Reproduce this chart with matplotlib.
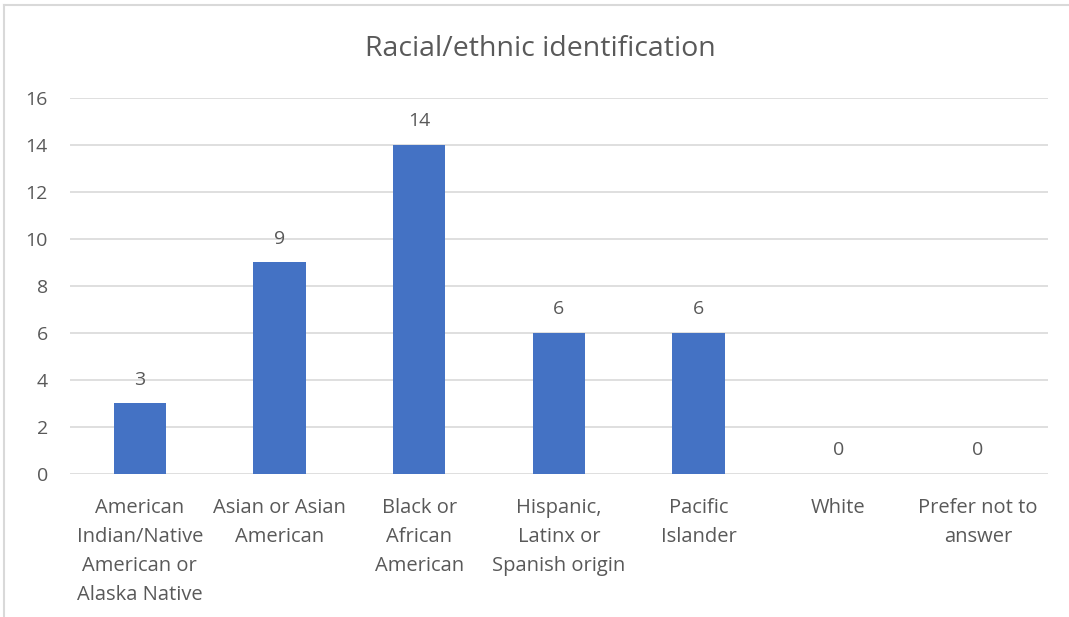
import matplotlib.pyplot as plt
import matplotlib.lines as mlines

categories = [
    "American\nIndian/Native\nAmerican or\nAlaska Native",
    "Asian or Asian\nAmerican",
    "Black or\nAfrican\nAmerican",
    "Hispanic,\nLatinx or\nSpanish origin",
    "Pacific\nIslander",
    "White",
    "Prefer not to\nanswer",
]
counts = [3, 9, 14, 6, 6, 0, 0]
yticks = [0, 2, 4, 6, 8, 10, 12, 14, 16]

plt.rcParams['font.family'] = ['Open Sans', 'DejaVu Sans']
text_col = '#595959'
grid_col = '#d9d9d9'

fig = plt.figure(figsize=(10.69, 6.17), dpi=100)
ax = fig.add_axes([0.0655, 0.2318, 0.9145, 0.6094])

x = range(len(categories))
bars = ax.bar(x, counts, width=0.375, color='#4472C4', zorder=3)

for xi, v in zip(x, counts):
    ax.annotate(str(v), (xi, v), xytext=(0, 17), textcoords='offset points',
                ha='center', va='center', fontsize=14, color=text_col)

ax.set_xlim(-0.5, len(categories) - 0.5)
ax.set_ylim(0, 16)
ax.set_yticks(yticks)
ax.set_xticks(list(x))
ax.set_xticklabels(categories, fontsize=14.5, color=text_col, linespacing=1.6)
ax.tick_params(axis='y', labelsize=14, labelcolor=text_col, length=0, pad=16)
ax.tick_params(axis='x', length=0, pad=17)
ax.yaxis.grid(True, color=grid_col, linewidth=1.2, zorder=0)
for s in ax.spines.values():
    s.set_visible(False)

# title sits centred on the whole chart area, not the plot area
ax.set_title("Racial/ethnic identification", fontsize=20.5, color=text_col, pad=30, x=0.481)

# outer chart frame (left and top edges visible)
fig.add_artist(mlines.Line2D([4 / 1069, 4 / 1069], [0, 1 - 5 / 617], color=grid_col, lw=1.5))
fig.add_artist(mlines.Line2D([4 / 1069, 1], [1 - 5 / 617, 1 - 5 / 617], color=grid_col, lw=1.5))

fig.savefig('out.png', dpi=100)
